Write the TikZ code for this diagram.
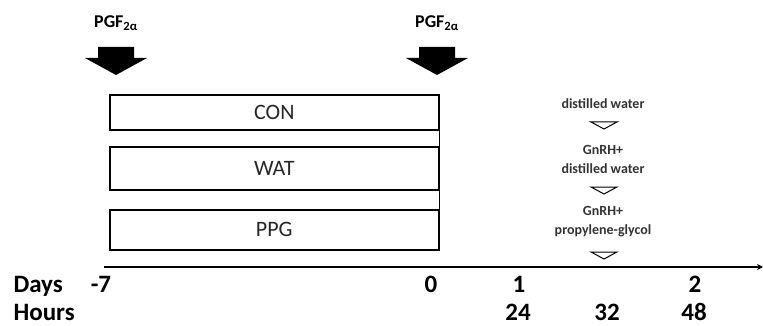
\documentclass[tikz,border=0pt]{standalone}
\usepackage{fontspec}
\setmainfont{Carlito}
\usetikzlibrary{arrows.meta}
\begin{document}
\begin{tikzpicture}[x=1pt,y=-1pt,
  groupbox/.style={draw, line width=1.6pt, minimum width=329pt, anchor=north west, inner sep=0pt, font=\fontsize{22}{22}\selectfont, text=black!85},
  pgf/.style={font=\bfseries\fontsize{18}{18}\selectfont, anchor=base},
  trt/.style={font=\bfseries\fontsize{14}{19}\selectfont, align=center, text=black!80, inner sep=0pt},
  axlab/.style={font=\bfseries\fontsize{25}{25}\selectfont, anchor=base},
  tri/.style={draw, line width=1pt}]
\useasboundingbox (0,0) rectangle (763,326);
% PGF arrows
\node[pgf] (p1) at (116,28) {PGF\textsubscript{2α}};
\node[pgf] (p2) at (437,28) {PGF\textsubscript{2α}};
\fill (98,47) -- (134,47) -- (134,58) -- (147,58) -- (116,75) -- (85,58) -- (98,58) -- cycle;
\fill (419,47) -- (455,47) -- (455,58) -- (468,58) -- (437,75) -- (406,58) -- (419,58) -- cycle;
% group boxes
\node[groupbox, minimum height=35pt] (con) at (109,94) {CON};
\node[groupbox, minimum height=43pt] (wat) at (109,146) {WAT};
\node[groupbox, minimum height=40pt] (ppg) at (109,209) {PPG};
\draw[line width=1.6pt] (con.north east) -- (ppg.south east);
% timeline
\coordinate (t0) at (104,267);
\coordinate (t1) at (763,267);
\draw[line width=1.8pt, -{Stealth[length=6pt,width=6pt]}] (t0) -- (t1);
% treatments
\node[trt] (d1) at (603,104) {distilled water};
\draw[tri] (591,122) -- (617,122) -- (604,129) -- cycle;
\node[trt] (d2) at (603,159) {GnRH+\\distilled water};
\draw[tri] (591,187) -- (617,187) -- (604,194) -- cycle;
\node[trt] (d3) at (603,222) {GnRH+\\propylene-glycol};
\draw[tri] (591,252) -- (617,252) -- (604,259) -- cycle;
% axis labels
\node[axlab, anchor=base west] (days) at (10,292) {Days};
\node[axlab, anchor=base west] (hours) at (10,320) {Hours};
\node[axlab] (m7) at (101,292) {-7};
\node[axlab] (z0) at (431,292) {0};
\node[axlab] (o1) at (519,292) {1};
\node[axlab] (o2) at (695,292) {2};
\node[axlab] (h24) at (518,320) {24};
\node[axlab] (h32) at (607,320) {32};
\node[axlab] (h48) at (694,320) {48};
\end{tikzpicture}
\end{document}
